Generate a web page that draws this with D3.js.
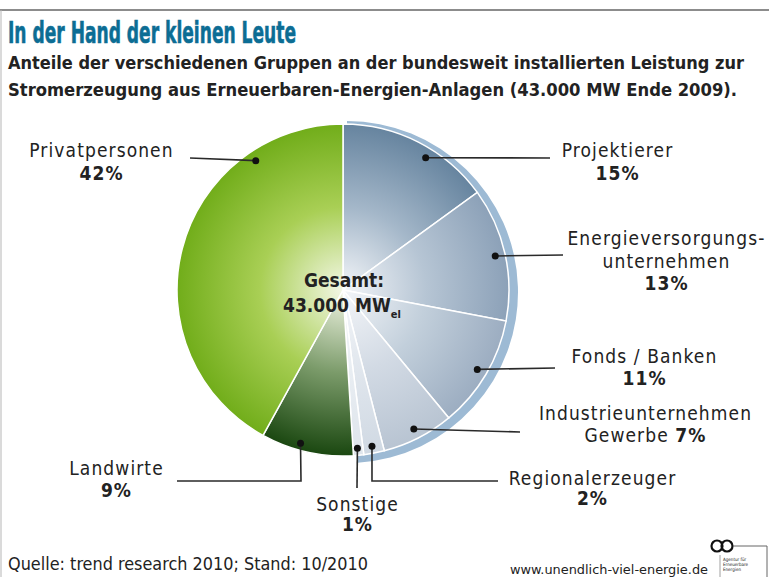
<!DOCTYPE html>
<html>
<head>
<meta charset="utf-8">
<script src="https://cdn.jsdelivr.net/npm/d3@7"></script>
<style>
  body { margin: 0; background: #fff; }
  text { font-family: "DejaVu Sans Condensed", "DejaVu Sans", sans-serif; fill: #222; }
</style>
</head>
<body>
<div id="chart"></div>
<script>
// chart data
var categories = ['Projektierer', 'Energieversorgungsunternehmen', 'Fonds / Banken', 'Industrieunternehmen Gewerbe',
    'Regionalerzeuger', 'Sonstige', 'Landwirte', 'Privatpersonen'];
var shares = [15, 13, 11, 7, 2, 1, 9, 42];
var totalLabel = '43.000 MW';

// colours: light centre, edge colour
var edgeColors = ['#66849f', '#8ca1b8', '#9cadc1', '#b8c4d2', '#d0d9e3', '#dfe5ec', '#1a4710', '#71ad1a'];
var midColors = ['#a4b7c9', '#b6c5d4', '#c2cfdb', '#d2dae4', '#e0e6ed', '#e8edf2', '#7b9b6a', '#a9cf55'];

// where each label goes (text lines, leader line, dot angle)
var labelLayout = {
    'Projektierer': {angle: 32, lines: [['Projektierer'], ['15%']], x: 617, y: [157, 180], path: [[550, 158]]},
    'Energieversorgungsunternehmen': {lines: [['Energieversorgungs-'], ['unternehmen'], ['13%']], x: 666, y: [245, 268, 290], path: [[563, 255]]},
    'Fonds / Banken': {lines: [['Fonds / Banken'], ['11%']], x: 644, y: [363, 385], path: [[555, 368]]},
    'Industrieunternehmen Gewerbe': {lines: [['Industrieunternehmen'], ['Gewerbe ', '7%']], x: 645, y: [420, 442], path: [[520, 432]]},
    'Regionalerzeuger': {angle: 169.5, lines: [['Regionalerzeuger'], ['2%']], x: 592, y: [485, 505], path: [[372, 481], [498, 481]]},
    'Sonstige': {angle: 174.8, lines: [['Sonstige'], ['1%']], x: 357, y: [511, 531], path: [[357, 488]]},
    'Landwirte': {angle: 195.5, lines: [['Landwirte'], ['9%']], x: 116, y: [475, 497], path: [[301, 481], [177, 481]]},
    'Privatpersonen': {angle: 326, lines: [['Privatpersonen'], ['42%']], x: 101, y: [157, 180], path: [[190, 158]]}
};

var width = 769, height = 577;
var cx = 343, cy = 290, radius = 166;

var svg = d3.select('#chart').append('svg')
    .attr('width', width)
    .attr('height', height);

// frame lines
svg.append('line').attr('x1', 0).attr('x2', width).attr('y1', 10).attr('y2', 10)
    .attr('stroke', '#8c8c8c').attr('stroke-width', 2);
svg.append('line').attr('x1', 1).attr('x2', 1).attr('y1', 10).attr('y2', height)
    .attr('stroke', '#b5b5b5').attr('stroke-width', 1);

// title
svg.append('text').attr('x', 8).attr('y', 43)
    .attr('textLength', 288).attr('lengthAdjust', 'spacingAndGlyphs')
    .style('font-size', '31px').style('font-weight', 'bold').style('fill', '#0c6d94')
    .style('stroke', '#0c6d94').style('stroke-width', 0.6)
    .text('In der Hand der kleinen Leute');
svg.append('text').attr('x', 8).attr('y', 69)
    .attr('textLength', 736).attr('lengthAdjust', 'spacingAndGlyphs')
    .style('font-size', '18px').style('font-weight', 'bold')
    .text('Anteile der verschiedenen Gruppen an der bundesweit installierten Leistung zur');
svg.append('text').attr('x', 8).attr('y', 96)
    .attr('textLength', 729).attr('lengthAdjust', 'spacingAndGlyphs')
    .style('font-size', '18px').style('font-weight', 'bold')
    .text('Stromerzeugung aus Erneuerbaren-Energien-Anlagen (43.000 MW Ende 2009).');

var defs = svg.append('defs');
categories.forEach(function (c, i) {
    var g = defs.append('radialGradient')
        .attr('id', 'grad' + i)
        .attr('gradientUnits', 'userSpaceOnUse')
        .attr('cx', 0).attr('cy', 0).attr('r', radius);
    g.append('stop').attr('offset', '0').attr('stop-color', i >= 6 ? '#f3f7e6' : '#f4f6f9');
    g.append('stop').attr('offset', '0.5').attr('stop-color', midColors[i]);
    g.append('stop').attr('offset', '1').attr('stop-color', edgeColors[i]);
});

var pie = d3.pie().sort(null).value(function (d) { return d; });
var arcs = pie(shares);
var arc = d3.arc().innerRadius(0).outerRadius(radius);

// blue ring behind the grey slices
svg.append('path')
    .attr('transform', 'translate(' + (cx + 4) + ',' + (cy + 2) + ')')
    .attr('d', d3.arc().innerRadius(0).outerRadius(radius + 5)
        .startAngle(arcs[0].startAngle).endAngle(arcs[5].endAngle)())
    .attr('fill', '#9dbad4');

var pieGroup = svg.append('g')
    .attr('transform', 'translate(' + cx + ',' + cy + ')');

pieGroup.selectAll('path.slice')
    .data(arcs)
    .enter()
    .append('path')
    .attr('class', 'slice')
    .attr('d', arc)
    .attr('fill', function (d, i) { return 'url(#grad' + i + ')'; })
    .attr('stroke', '#fff')
    .attr('stroke-width', 1.5);

// centre text
svg.append('text').attr('x', 344).attr('y', 287).attr('text-anchor', 'middle')
    .style('font-size', '19px').style('font-weight', 'bold').text('Gesamt:');
var tot = svg.append('text').attr('x', 283).attr('y', 312)
    .style('font-size', '19px').style('font-weight', 'bold');
tot.append('tspan').text(totalLabel);
tot.append('tspan').attr('dy', 6).style('font-size', '11px').text('el');

// labels with leader lines
arcs.forEach(function (d, i) {
    var lay = labelLayout[categories[i]];
    var mid = (d.startAngle + d.endAngle) / 2;
    var ang = lay.angle !== undefined ? lay.angle * Math.PI / 180 : mid;
    var r = d.startAngle > Math.PI * 0.9 && d.endAngle < Math.PI * 1.3 ? 159 : 156;
    var dx = cx + r * Math.sin(ang);
    var dy = cy - r * Math.cos(ang);
    var pts = [[dx, dy]].concat(lay.path);
    svg.append('path')
        .attr('d', d3.line()(pts))
        .attr('fill', 'none')
        .attr('stroke', '#2a2a2a')
        .attr('stroke-width', 1.6);
    svg.append('circle')
        .attr('cx', dx).attr('cy', dy).attr('r', 3.5)
        .attr('fill', '#111');

    lay.lines.forEach(function (parts, j) {
        var t = svg.append('text')
            .attr('x', lay.x + 0.5).attr('y', lay.y[j])
            .attr('text-anchor', 'middle')
            .style('font-size', '19px')
            .style('letter-spacing', '1.1px');
        parts.forEach(function (p) {
            t.append('tspan')
                .style('font-weight', /%$/.test(p) ? 'bold' : 'normal')
                .text(p);
        });
    });
});

// footer
svg.append('text').attr('x', 8).attr('y', 570)
    .attr('textLength', 360).attr('lengthAdjust', 'spacingAndGlyphs')
    .style('font-size', '18px').text('Quelle: trend research 2010; Stand: 10/2010');
svg.append('text').attr('x', 510).attr('y', 574)
    .attr('textLength', 198).attr('lengthAdjust', 'spacingAndGlyphs')
    .style('font-size', '13px').text('www.unendlich-viel-energie.de');

// logo
var logo = svg.append('g');
logo.append('circle').attr('cx', 717).attr('cy', 546).attr('r', 5.5)
    .attr('fill', 'none').attr('stroke', '#111').attr('stroke-width', 2.2);
logo.append('circle').attr('cx', 727).attr('cy', 546).attr('r', 5.5)
    .attr('fill', 'none').attr('stroke', '#111').attr('stroke-width', 2.2);
logo.append('path').attr('d', 'M733,546H767V577').attr('fill', 'none')
    .attr('stroke', '#666').attr('stroke-width', 1);
logo.append('path').attr('d', 'M720,555V577').attr('fill', 'none')
    .attr('stroke', '#888').attr('stroke-width', 0.8);
['Agentur für', 'Erneuerbare', 'Energien'].forEach(function (s, k) {
    logo.append('text').attr('x', 723).attr('y', 561 + k * 5)
        .style('font-size', '4.5px').text(s);
});
</script>
</body>
</html>
